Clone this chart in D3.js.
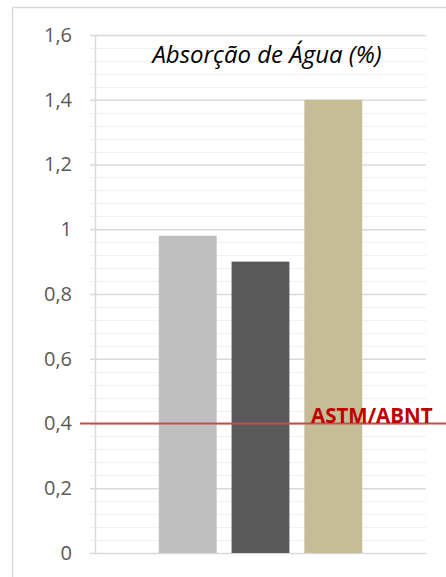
<!DOCTYPE html>
<html>
<head>
<meta charset="utf-8">
<script src="https://cdn.jsdelivr.net/npm/d3@7"></script>
<style>
  html, body { margin: 0; padding: 0; background: #fff; }
  svg { display: block; }
</style>
</head>
<body>
<svg id="chart" width="446" height="577"></svg>
<script>
// Water absorption per sample, with the standard limit
const series = ["Amostra 1", "Amostra 2", "Amostra 3"];
const values = [0.98, 0.90, 1.40];
const colors = ["#bfbfbf", "#595959", "#c4bd97"];
const yTicks = [0, 0.2, 0.4, 0.6, 0.8, 1, 1.2, 1.4, 1.6];
const limitValue = 0.4;
const limitLabel = "ASTM/ABNT";
const title = "Absorção de Água (%)";

const svg = d3.select("#chart");
const W = 446, H = 577;

// chart frame
svg.append("path")
  .attr("d", `M12.5,${H} V7.5 H${W}`)
  .attr("fill", "none")
  .attr("stroke", "#d9d9d9")
  .attr("stroke-width", 1.5);

const plot = { left: 95, right: 426, top: 35, bottom: 553 };

const y = d3.scaleLinear().domain([0, 1.6]).range([plot.bottom, plot.top]);
const x = d3.scaleBand().domain(series)
  .range([plot.left, plot.right])
  .paddingInner(0.205)
  .paddingOuter(0.877);

// minor grid
const minor = d3.range(0, 1.6001, 0.04).filter(v => Math.abs(v / 0.2 - Math.round(v / 0.2)) > 1e-6);
svg.append("g").selectAll("line").data(minor).join("line")
  .attr("x1", plot.left - 5).attr("x2", plot.right)
  .attr("y1", d => Math.round(y(d)) + 0.5).attr("y2", d => Math.round(y(d)) + 0.5)
  .attr("stroke", "#f0f0f0").attr("stroke-width", 1.2);

// major grid
const gy = svg.append("g").attr("transform", `translate(${plot.right},0)`);
gy.call(d3.axisLeft(y).tickValues(yTicks).tickSize(plot.right - plot.left + 5).tickFormat(""));
gy.select(".domain").remove();
gy.selectAll(".tick line").attr("stroke", "#d9d9d9").attr("stroke-width", 1.3);

// axis labels
const gl = svg.append("g").attr("transform", `translate(${plot.left},0)`);
gl.call(d3.axisLeft(y).tickValues(yTicks).tickSize(0).tickPadding(23)
  .tickFormat(d => String(d).replace(".", ",")));
gl.select(".domain").remove();
gl.selectAll(".tick text")
  .attr("fill", "#595959")
  .attr("font-family", "'Open Sans', sans-serif")
  .attr("font-size", 20);

// vertical axis line
svg.append("line")
  .attr("x1", plot.left + 0.5).attr("x2", plot.left + 0.5)
  .attr("y1", plot.top).attr("y2", plot.bottom)
  .attr("stroke", "#d9d9d9").attr("stroke-width", 1.5);

// bars
svg.append("g").selectAll("rect").data(series).join("rect")
  .attr("x", d => x(d))
  .attr("width", x.bandwidth())
  .attr("y", (d, i) => y(values[i]))
  .attr("height", (d, i) => y(0) - y(values[i]))
  .attr("fill", (d, i) => colors[i]);

// title
svg.append("text")
  .attr("x", 267).attr("y", 63)
  .attr("text-anchor", "middle")
  .attr("font-family", "'Open Sans', sans-serif")
  .attr("font-style", "italic")
  .attr("font-size", 24)
  .attr("fill", "#000")
  .text(title);

// limit line
svg.append("line")
  .attr("x1", 80).attr("x2", W)
  .attr("y1", y(limitValue)).attr("y2", y(limitValue))
  .attr("stroke", "#c0504d").attr("stroke-width", 2.2);

svg.append("text")
  .attr("x", 311).attr("y", y(limitValue) - 0.5)
  .attr("font-family", "'Open Sans', sans-serif")
  .attr("font-weight", "bold")
  .attr("font-size", 20.5)
  .attr("fill", "#c00000")
  .text(limitLabel);
</script>
</body>
</html>
